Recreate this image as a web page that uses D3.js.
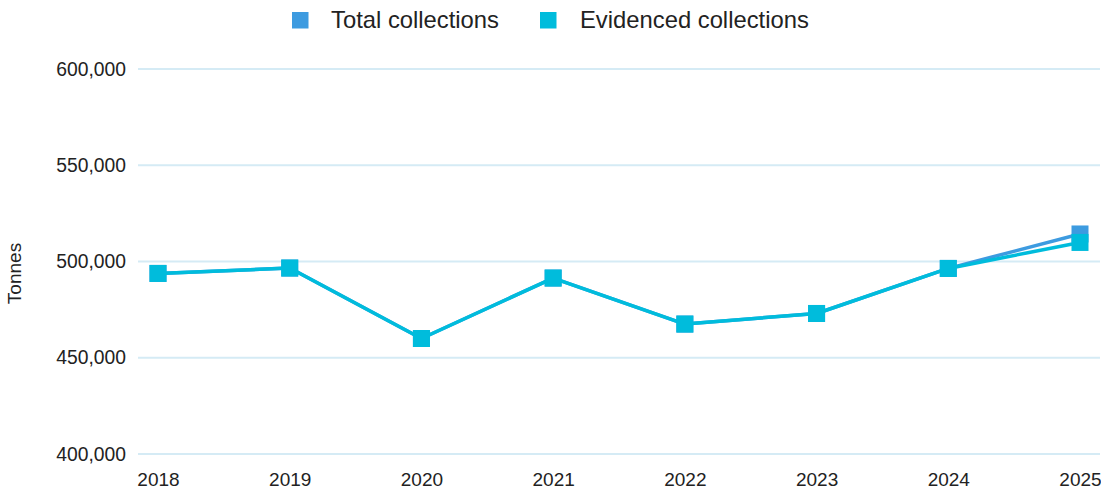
<!DOCTYPE html>
<html><head><meta charset="utf-8">
<script src="https://cdn.jsdelivr.net/npm/d3@7/dist/d3.min.js"></script>
<style>body{margin:0;background:#fff;font-family:"Liberation Sans",Arial,sans-serif;}</style>
</head><body><svg id="c" width="1101" height="489"></svg>
<script>
const years = ["2018","2019","2020","2021","2022","2023","2024","2025"];
const totalCollections = [493800, 496600, 460000, 491400, 467500, 473000, 496400, 514300];
const evidencedCollections = [493800, 496600, 460000, 491400, 467500, 473000, 496400, 509900];
const yTicks = [400000, 450000, 500000, 550000, 600000];
const seriesNames = ["Total collections", "Evidenced collections"];
const colors = ["#3d9be0", "#00bcdc"];

const svg = d3.select("#c");
const x = d3.scalePoint().domain(years).range([158, 1080]);
const y = d3.scaleLinear().domain([400000, 600000]).range([454, 69]);
const fmt = d3.format(",");
const FF = "Liberation Sans, Arial, sans-serif";

// grid
svg.append("g").selectAll("line").data(yTicks).join("line")
  .attr("x1", 138).attr("x2", 1100)
  .attr("y1", d => y(d)).attr("y2", d => y(d))
  .attr("stroke", "#d5ebf5").attr("stroke-width", 2);

// y axis labels
const ya = svg.append("g").attr("transform", "translate(126,0)")
  .call(d3.axisLeft(y).tickValues(yTicks).tickFormat(fmt).tickSize(0).tickPadding(0));
ya.select(".domain").remove();
ya.selectAll("text").attr("font-size", 19.3).attr("font-family", FF).attr("fill", "#222");

// x axis labels
const xa = svg.append("g").attr("transform", "translate(0,472)")
  .call(d3.axisBottom(x).tickSize(0).tickPadding(0));
xa.select(".domain").remove();
xa.selectAll("text").attr("font-size", 19).attr("font-family", FF).attr("fill", "#222").attr("dy", "0.71em");

// y title
svg.append("text").attr("transform", "translate(21,273.5) rotate(-90)")
  .attr("text-anchor", "middle").attr("font-size", 19).attr("font-family", FF).attr("fill", "#222").text("Tonnes");

const line = d3.line().x((d, i) => x(years[i])).y(d => y(d));
[totalCollections, evidencedCollections].forEach((s, k) => {
  svg.append("path").datum(s).attr("d", line).attr("fill", "none")
    .attr("stroke", colors[k]).attr("stroke-width", 3.5).attr("stroke-linejoin", "round");
  svg.append("g").selectAll("rect").data(s).join("rect")
    .attr("x", (d, i) => x(years[i]) - 8.5).attr("y", d => y(d) - 8.5)
    .attr("width", 17).attr("height", 17).attr("fill", colors[k]);
});

// legend
const leg = [{x: 292, tx: 331}, {x: 540, tx: 580}];
seriesNames.forEach((n, k) => {
  svg.append("rect").attr("x", leg[k].x).attr("y", 12).attr("width", 16.5).attr("height", 16.5).attr("fill", colors[k]);
  svg.append("text").attr("x", leg[k].tx).attr("y", 28).attr("font-size", 23.8).attr("font-family", FF).attr("fill", "#222").text(n);
});
</script></body></html>
